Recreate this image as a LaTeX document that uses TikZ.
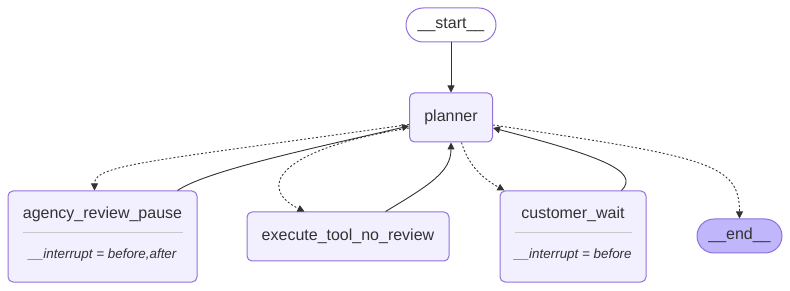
\documentclass[tikz,border=0pt]{standalone}
\usepackage{fontspec}
\setmainfont{Liberation Sans}
\usetikzlibrary{positioning,arrows.meta,calc}

\definecolor{nodefill}{HTML}{F2F0FF}
\definecolor{nodeline}{HTML}{9370DB}
\definecolor{endfill}{HTML}{BFB6FC}
\definecolor{inktext}{HTML}{333333}
\definecolor{sepline}{HTML}{C8C8C8}

\begin{document}
\begin{tikzpicture}[x=1pt, y=-1pt,
    graphnode/.style={draw=nodeline, fill=nodefill, rounded corners=5pt, line width=1pt, inner sep=0pt,
        text=inktext, font=\fontsize{16pt}{19pt}\selectfont, text height=11.5pt, text depth=3.5pt},
    pill/.style={graphnode, rounded corners=17pt, minimum height=34pt},
    note/.style={text=inktext, font=\fontsize{13.4pt}{16pt}\selectfont\itshape, inner sep=0pt},
    sep/.style={draw=sepline, line width=1pt},
    edge/.style={draw=inktext, line width=0.9pt, -{Triangle[length=7pt,width=7pt]}},
    cond/.style={edge, dash pattern=on 2pt off 2pt}
]
    \useasboundingbox (0,0) rectangle (790,291);

    % entry and router
    \node[pill, fill=white, minimum width=90pt] at (451,25) (start) {\_\_start\_\_};
    \node[graphnode, minimum width=83pt, minimum height=49pt, below=50pt of start] (planner) {planner};

    % worker nodes
    \node[graphnode, minimum width=189pt, minimum height=91pt] at (102.5,236.5) (agency) {};
    \node[graphnode, minimum width=202pt, minimum height=49pt] at (348,236.5) (execute) {execute\_tool\_no\_review};
    \node[graphnode, minimum width=146pt, minimum height=91pt] at (573,236.5) (customer) {};
    \node[pill, fill=endfill, minimum width=85pt] at (739.5,236) (end) {\_\_end\_\_};

    % titles and interrupt notes
    \node[graphnode, draw=none, fill=none] at ($(agency.north)+(0,24)$) (agencytitle) {agency\_review\_pause};
    \draw[sep] ($(agency.west)+(15,-3.5)$) -- ($(agency.east)+(-15,-3.5)$);
    \node[note] at ($(agency.south)+(0,-27)$) (agencynote) {\_\_interrupt = before,after};

    \node[graphnode, draw=none, fill=none] at ($(customer.north)+(0,24)$) (customertitle) {customer\_wait};
    \draw[sep] ($(customer.west)+(15,-3.5)$) -- ($(customer.east)+(-15,-3.5)$);
    \node[note] at ($(customer.south)+(0,-27)$) (customernote) {\_\_interrupt = before};

    % Connections
    \draw[edge] (start) -- (planner);

    \draw[cond] ($(planner.west)+(0,7)$) .. controls +(-259,37) and +(0,-26) .. ($(agency.north west)+(87,0)$);
    \draw[edge] ($(agency.north east)+(-20,0)$) .. controls +(28,-19) and +(-109,25) .. ($(planner.west)+(0,8.5)$);

    \draw[cond] ($(planner.west)+(0,10.5)$) .. controls +(-139,23) and +(-45,-22) .. ($(execute.north west)+(58,0)$);
    \draw[edge] ($(execute.north east)+(-64,0)$) .. controls +(45,-27) and +(0,29) .. (planner.south);

    \draw[cond] ($(planner.south)+(10.5,0)$) .. controls +(7,24) and +(-20,-11) .. ($(customer.north west)+(5,0)$);
    \draw[edge] ($(customer.north east)+(-25,0)$) .. controls +(19,-19) and +(108,28) .. ($(planner.east)+(0,10.5)$);

    \draw[cond] ($(planner.east)+(0,7.5)$) .. controls +(215,32) and +(0,-55) .. (end.north);
\end{tikzpicture}
\end{document}
